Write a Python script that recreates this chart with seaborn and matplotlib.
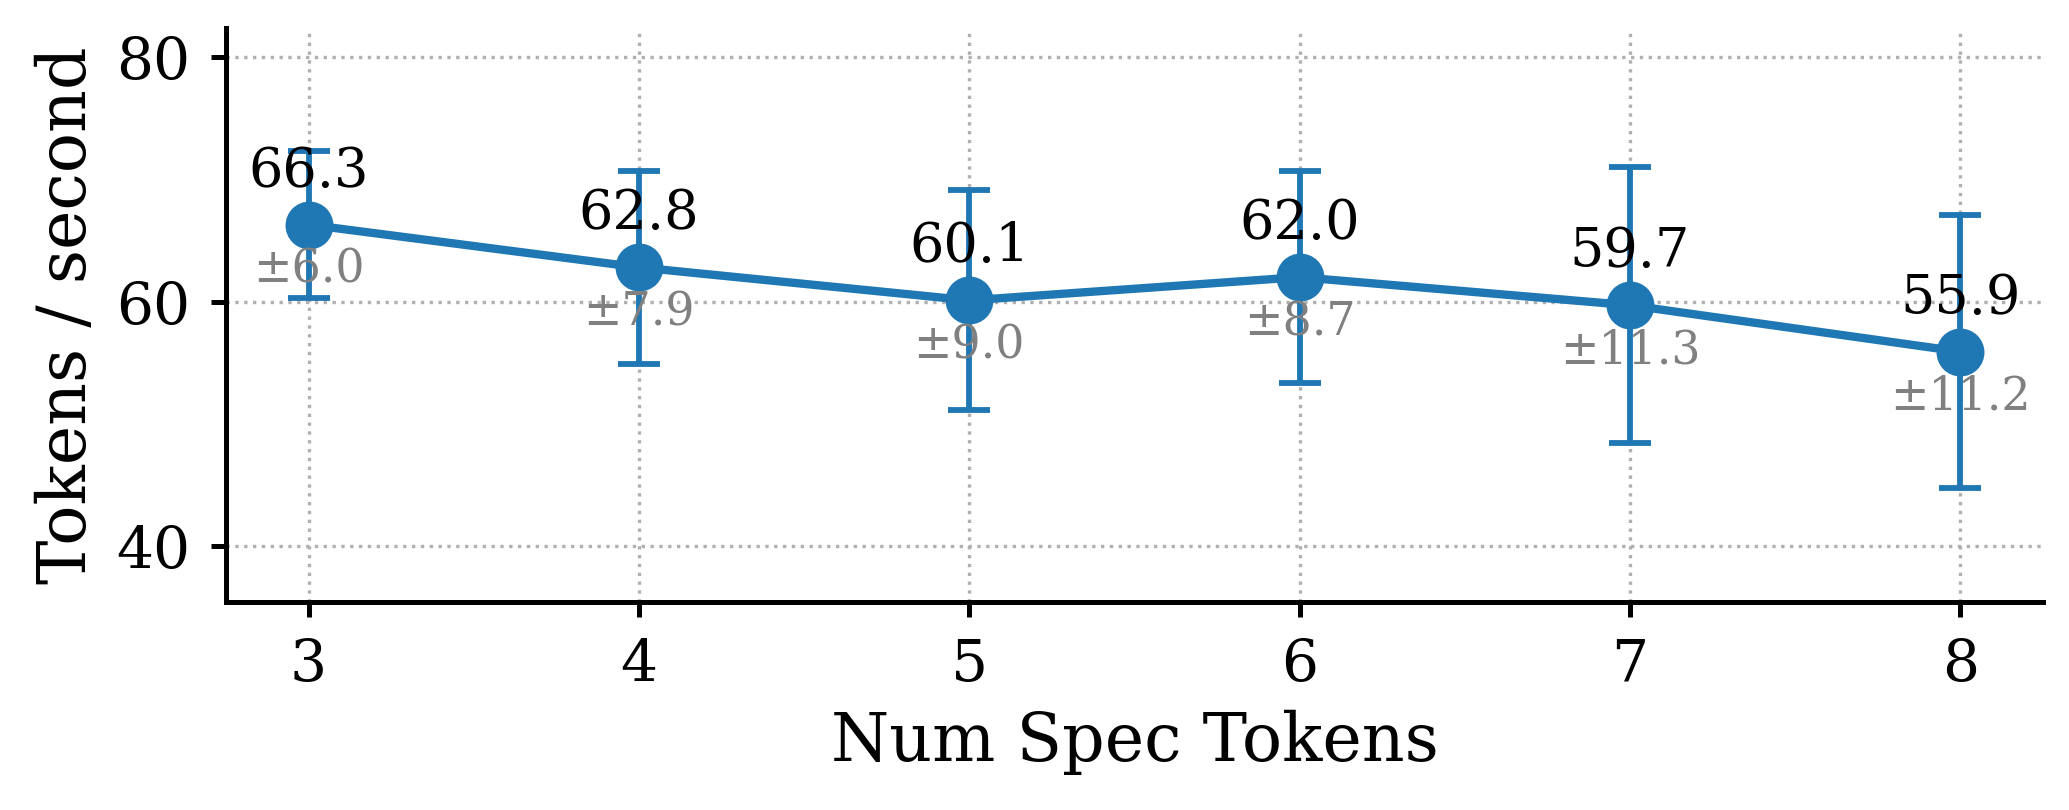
import numpy as np
import matplotlib
matplotlib.use('Agg')
from matplotlib import pyplot as plt
import seaborn as sns

sns.set_style("ticks")
plt.rcParams['font.family'] = ['DejaVu Serif']
plt.rcParams['text.color'] = 'black'
plt.rcParams['axes.labelcolor'] = 'black'
plt.rcParams['axes.edgecolor'] = 'black'
plt.rcParams['xtick.color'] = 'black'
plt.rcParams['ytick.color'] = 'black'

# Throughput per number of speculative tokens
num_spec = [3, 4, 5, 6, 7, 8]
mean_tps = [66.3, 62.8, 60.1, 62.0, 59.7, 55.9]
std_tps = [6.0, 7.9, 9.0, 8.7, 11.3, 11.2]
y_ticks = [40, 60, 80]

blue = sns.color_palette()[0]

fig = plt.figure(figsize=(2069 / 300, 810 / 300), dpi=300)
ax = fig.add_axes([0.1092, 0.2568, 0.8782, 0.7086])

ax.errorbar(num_spec, mean_tps, yerr=std_tps, fmt='none', ecolor=blue,
            elinewidth=1.4, capsize=5, capthick=1.4, zorder=2)
sns.lineplot(x=num_spec, y=mean_tps, ax=ax, color=blue, marker='o',
             markersize=11.5, markeredgewidth=0, linewidth=2, zorder=3)

for x, m, s in zip(num_spec, mean_tps, std_tps):
    ax.annotate(f'{m:.1f}', (x, m), xytext=(0, 6.5), textcoords='offset points',
                ha='center', va='bottom', fontsize=13, color='black', zorder=4)
    ax.annotate(f'\u00b1{s:.1f}', (x, m), xytext=(0, -5.5), textcoords='offset points',
                ha='center', va='top', fontsize=11, color='grey', zorder=4)

ax.set_xticks(num_spec)
ax.set_yticks(y_ticks)
ax.set_ylim(35.4, 82.4)
ax.set_xlim(2.75, 8.25)
ax.grid(True, linestyle=':', color='#b0b0b0', linewidth=0.8)
ax.set_axisbelow(True)
ax.tick_params(labelsize=14, width=1.2, length=3.5, pad=5)
for sp in ['left', 'bottom']:
    ax.spines[sp].set_linewidth(1.2)
sns.despine(ax=ax)

ax.set_xlabel('Num Spec Tokens', fontsize=16)
ax.set_ylabel('Tokens / second', fontsize=16)

fig.savefig('out.png', dpi=300)
